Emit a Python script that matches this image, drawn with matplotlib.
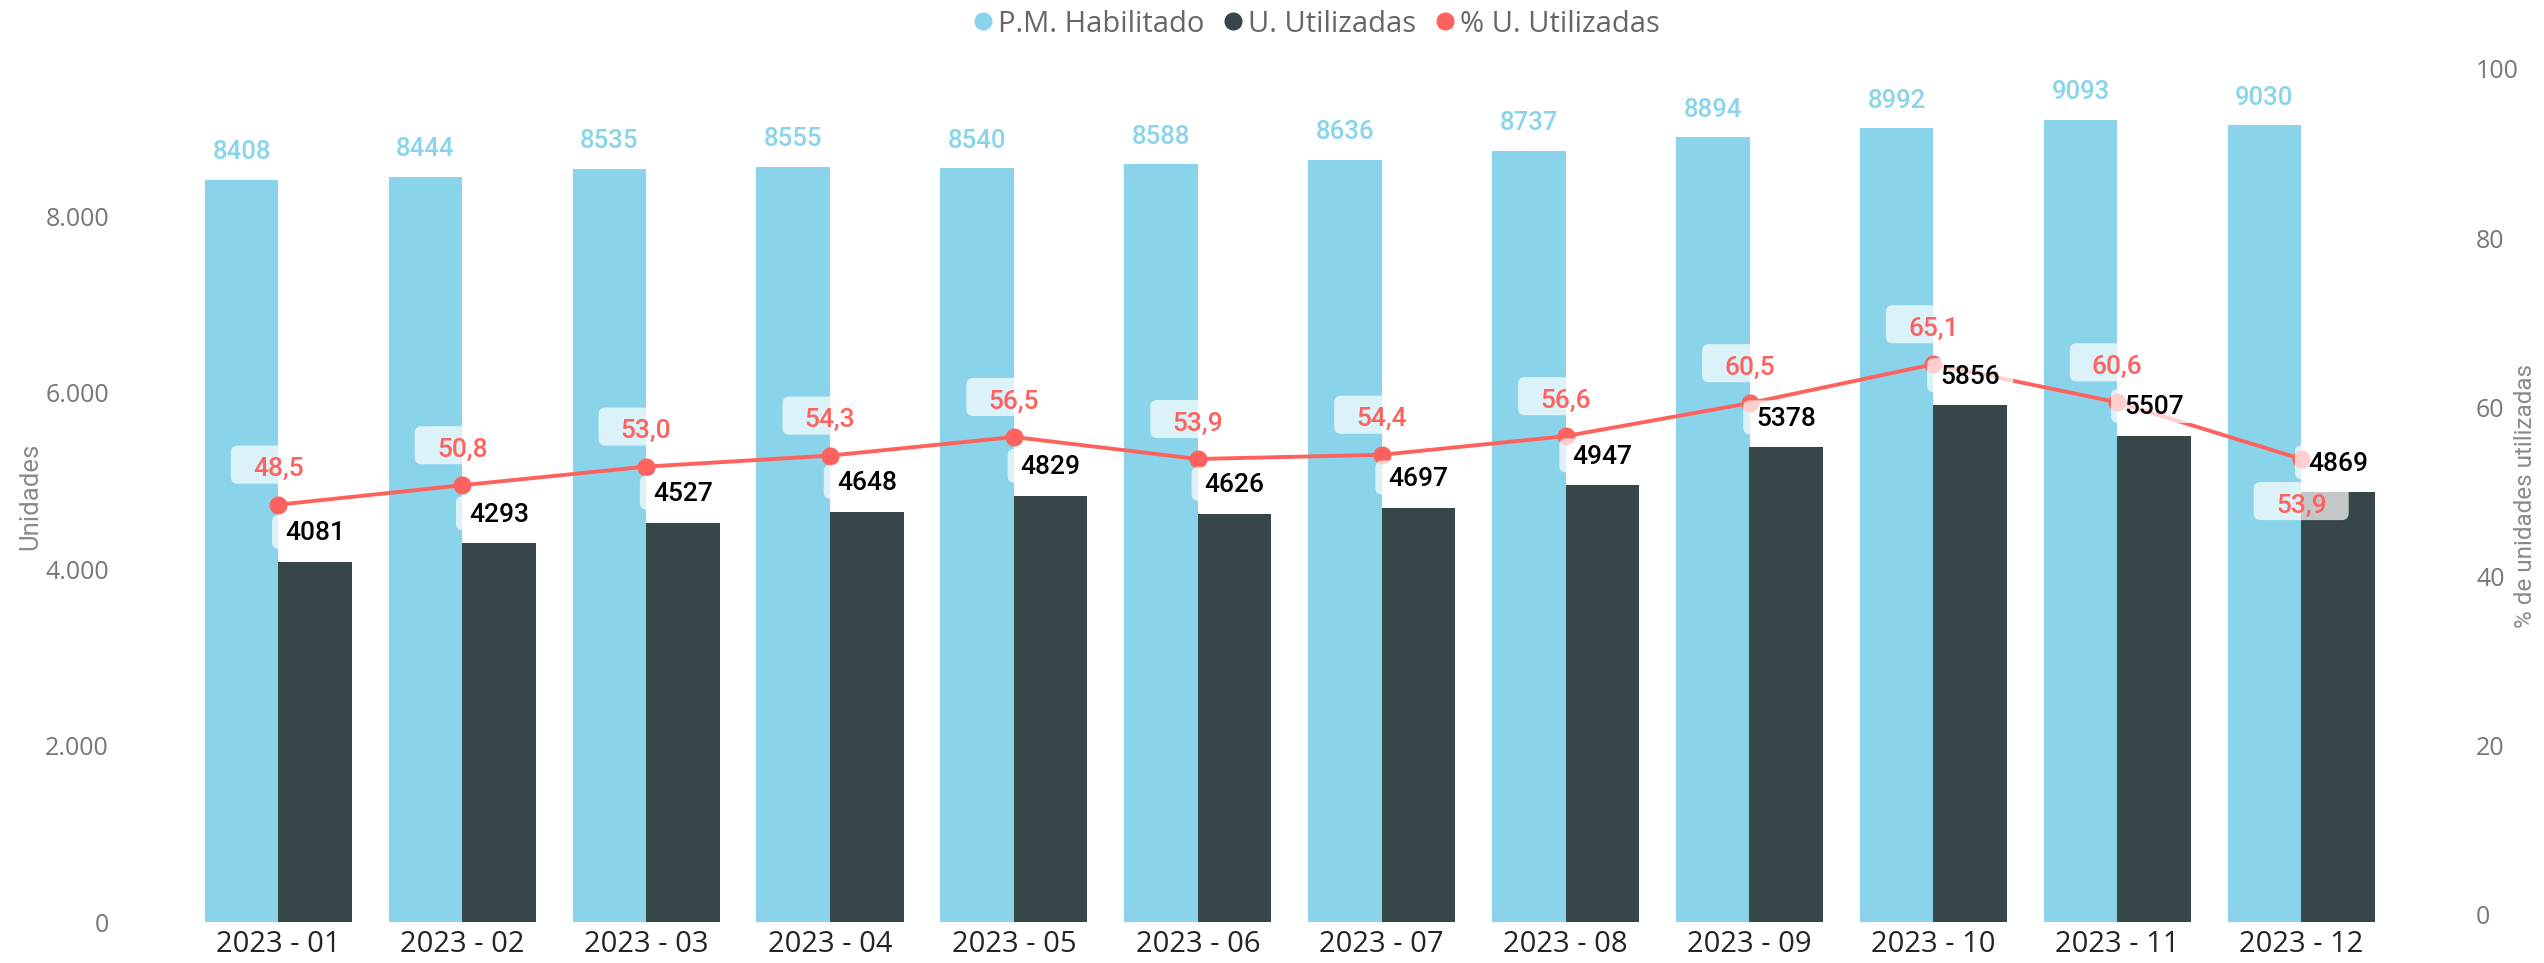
import numpy as np
import matplotlib
matplotlib.use('Agg')
import matplotlib.pyplot as plt
import matplotlib.transforms as mtransforms
from matplotlib.patches import FancyBboxPatch
from matplotlib.lines import Line2D

meses = ['2023 - 01', '2023 - 02', '2023 - 03', '2023 - 04', '2023 - 05', '2023 - 06',
         '2023 - 07', '2023 - 08', '2023 - 09', '2023 - 10', '2023 - 11', '2023 - 12']
habilitado = [8408, 8444, 8535, 8555, 8540, 8588, 8636, 8737, 8894, 8992, 9093, 9030]
utilizadas = [4081, 4293, 4527, 4648, 4829, 4626, 4697, 4947, 5378, 5856, 5507, 4869]
pct_utilizadas = [48.5, 50.8, 53.0, 54.3, 56.5, 53.9, 54.4, 56.6, 60.5, 65.1, 60.6, 53.9]
# posicion de la etiqueta del %: arriba (1) o abajo (-1) del punto
pos_pct = [1, 1, 1, 1, 1, 1, 1, 1, 1, 1, 1, -1]

C_HAB = '#8AD4EB'
C_UTI = '#374649'
C_PCT = '#FD625E'
FONT_LBL = ['Roboto', 'DejaVu Sans']
FONT_UI = ['Open Sans', 'DejaVu Sans']

DPI = 100
fig = plt.figure(figsize=(25.44, 9.63), dpi=DPI)
W, H = 2544, 963
ax = fig.add_axes([120 / W, 1 - 922 / H, (2440 - 120) / W, (922 - 69) / H])
ax2 = ax.twinx()

x = np.arange(len(meses))
bw = 0.4
ax.bar(x - bw / 2, habilitado, bw, color=C_HAB, zorder=1)
ax.bar(x + bw / 2, utilizadas, bw, color=C_UTI, zorder=1)
ax2.plot(x, pct_utilizadas, color=C_PCT, lw=2.8, marker='o', ms=12, zorder=2)

ax.set_xlim((120 - 278.3) / 183.9, (2440 - 278.3) / 183.9)
ax.set_ylim(0, 9666)
ax2.set_ylim(-0.83, 100)

ax.set_xticks(x)
ax.set_xticklabels(meses, fontsize=21, color='#252423', family=FONT_UI)
ax.set_yticks(range(0, 8001, 2000))
ax.set_yticklabels([f"{v:,}".replace(',', '.') for v in range(0, 8001, 2000)],
                   fontsize=18, color='#777777', family=FONT_UI)
ax2.set_yticks(range(0, 101, 20))
ax2.set_yticklabels([str(v) for v in range(0, 101, 20)], fontsize=18, color='#777777', family=FONT_UI)
ax.tick_params(axis='x', length=0, pad=6)
ax.tick_params(axis='y', length=0, pad=8)
ax2.tick_params(axis='y', length=0, pad=26)
for a in (ax, ax2):
    for s in a.spines.values():
        s.set_visible(False)

fig.text(30 / W, 1 - 496 / H, 'Unidades', rotation=90, ha='center', va='center',
         fontsize=18.5, color='#8a8a8a', family=FONT_LBL)
fig.text(2526 / W, 1 - 496 / H, '% de unidades utilizadas', rotation=90, ha='center', va='center',
         fontsize=17.5, color='#8a8a8a', family=FONT_LBL)


def pt_trans(xv, yv, base):
    return mtransforms.Affine2D().scale(DPI / 72) + mtransforms.ScaledTranslation(xv, yv, base)


def etiqueta(xv, yv, base, texto, dy, color, caja=None, fs=19, z=5):
    tr = pt_trans(xv, yv, base)
    if caja is not None:
        bw_, bh_, by = caja
        box = FancyBboxPatch((-bw_ / 2, dy + by - bh_ / 2), bw_, bh_,
                             boxstyle='round,pad=0,rounding_size=5',
                             transform=tr, facecolor='white', edgecolor='none',
                             alpha=0.7, zorder=z, clip_on=False)
        ax2.add_artist(box)
    ax2.text(0, dy - 6.8, texto, transform=tr, ha='center', va='baseline',
             fontsize=fs, color=color, family=FONT_LBL, fontweight='medium',
             zorder=z + 1, clip_on=False)


for i in range(len(meses)):
    etiqueta(x[i] - bw / 2, habilitado[i], ax.transData, str(habilitado[i]), 21.6, C_HAB, fs=18.5)
    etiqueta(x[i] + bw / 2, utilizadas[i], ax.transData, str(utilizadas[i]), 22.3, 'black',
             caja=(62, 24.5, -0.7))
    dy = 27.4 if pos_pct[i] > 0 else -31.7
    etiqueta(x[i], pct_utilizadas[i], ax2.transData, f"{pct_utilizadas[i]:.1f}".replace('.', ','),
             dy, C_PCT, caja=(68.4, 27.4, 1.4), z=7)

handles = [Line2D([], [], ls='none', marker='o', ms=12, color=c) for c in (C_HAB, C_UTI, C_PCT)]
leg = fig.legend(handles, ['P.M. Habilitado', 'U. Utilizadas', '% U. Utilizadas'],
                 loc='center', bbox_to_anchor=(1317 / W, 1 - 24 / H), ncol=3, frameon=False,
                 handlelength=0.6, handletextpad=0.2, columnspacing=0.7,
                 prop={'family': FONT_UI, 'size': 21})
for t in leg.get_texts():
    t.set_color('#666666')

fig.savefig('out.png', dpi=DPI)
